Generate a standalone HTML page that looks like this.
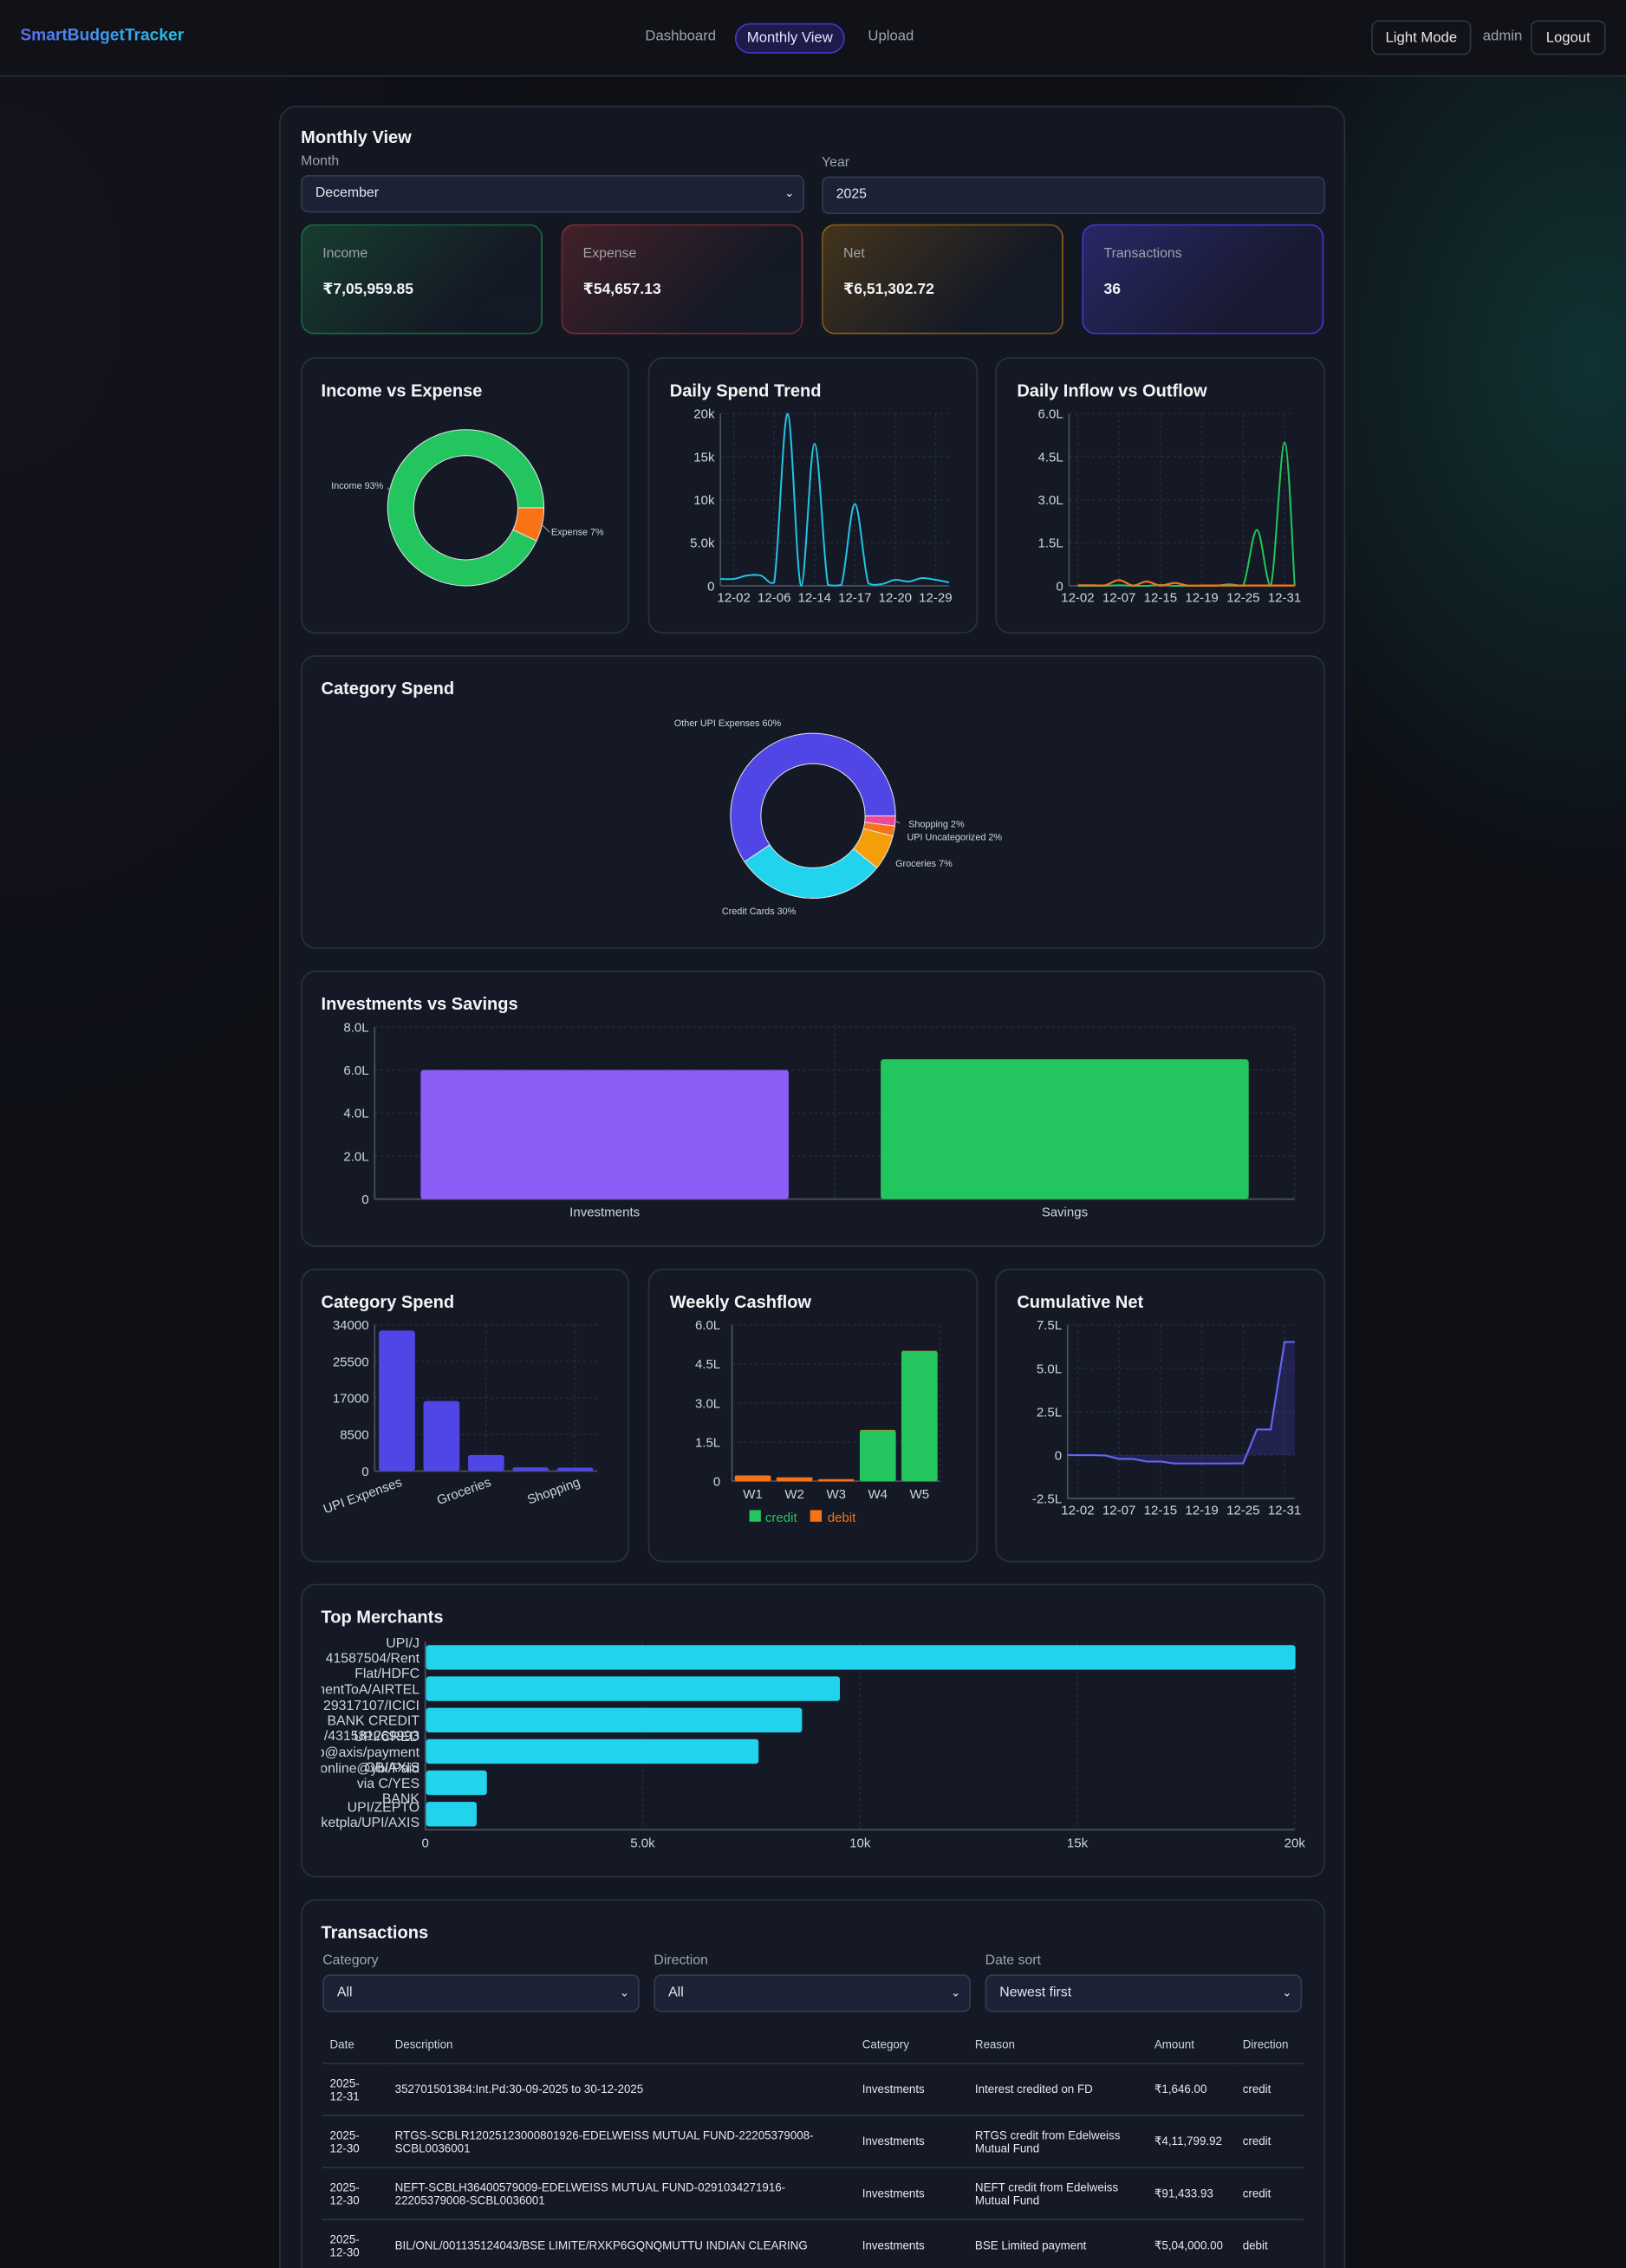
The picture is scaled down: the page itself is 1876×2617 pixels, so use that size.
<!DOCTYPE html>
<html><head><meta charset="utf-8"><title>SmartBudgetTracker - Monthly View</title>
<style>
html,body{margin:0;padding:0;width:1876px;height:2617px;overflow:hidden;background:#0e1016;}
#root{position:absolute;left:0;top:0;width:1124px;height:1568px;transform:scale(1.66904);transform-origin:0 0;
 font-family:"Liberation Sans","DejaVu Sans",sans-serif;color:#e5e7eb;overflow:hidden;
 background:radial-gradient(ellipse 260px 360px at 1100px 250px,rgba(20,110,100,.36),rgba(20,110,100,0) 100%),
 radial-gradient(ellipse 400px 600px at 0px 200px,rgba(40,30,60,.22),rgba(0,0,0,0)),#0e1016;}
.abs{position:absolute;}
#nav{left:0;top:0;width:1124px;height:52px;background:#101218;border-bottom:1px solid #2a2e37;}
.brand{left:14px;top:19px;font-size:11.5px;font-weight:bold;background:linear-gradient(90deg,#5b6cf0,#22c3e6);-webkit-background-clip:text;color:transparent;}
.navlink{top:20px;font-size:10px;color:#9ca3af;}
.pill{left:508px;top:16px;width:76px;height:21px;border:1px solid #4338ca;border-radius:11px;background:#1e1b4b;color:#e0e7ff;font-size:10px;text-align:center;line-height:20px;box-sizing:border-box;}
.btn{top:14px;height:24px;border:1px solid #30343e;border-radius:5px;font-size:10px;line-height:23px;text-align:center;box-sizing:border-box;color:#e5e7eb;background:#111319;}
#panel{left:193px;top:73px;width:737px;height:1560px;border:1px solid #2b3040;border-radius:12px;background:#131722;box-sizing:border-box;}
.h{font-size:12px;font-weight:bold;color:#f3f4f6;}
.lbl{font-size:9.5px;color:#9ca3af;}
.field{height:26px;border:1px solid #343b4f;border-radius:5px;background:#1c2236;box-sizing:border-box;font-size:9.5px;line-height:24px;padding-left:9px;color:#e5e7eb;}
.chev{position:absolute;right:6px;top:0;font-size:8px;color:#e5e7eb;}
.stat{top:155px;width:167px;height:76px;border-radius:9px;box-sizing:border-box;}
.stat .t{position:absolute;left:14px;top:14px;font-size:9.5px;color:#a1a1aa;}
.stat .v{position:absolute;left:14px;top:38px;font-size:10.5px;font-weight:bold;color:#f3f4f6;}
.card{border:1px solid #2a3142;border-radius:10px;background:#141925;box-sizing:border-box;}
.ct{font-size:12px;font-weight:bold;color:#f3f4f6;}
svg text{font-family:"Liberation Sans","DejaVu Sans",sans-serif;}
table{border-collapse:collapse;font-size:8px;color:#e5e7eb;}
td,th{text-align:left;vertical-align:middle;padding:0 0 0 5px;}
th{font-weight:normal;color:#cbd5e1;height:26px;}
tr.r td{height:35px;border-top:1px solid #2e3445;}
</style></head><body>
<div id="root">
 <div id="nav" class="abs">
  <div class="abs brand">SmartBudgetTracker</div>
  <div class="abs navlink" style="left:446px">Dashboard</div>
  <div class="abs pill">Monthly View</div>
  <div class="abs navlink" style="left:600px">Upload</div>
  <div class="abs btn" style="left:948px;width:69px">Light Mode</div>
  <div class="abs navlink" style="left:1025px">admin</div>
  <div class="abs btn" style="left:1058px;width:52px">Logout</div>
 </div>
 <div id="panel" class="abs"></div>
 <div class="abs h" style="left:208px;top:88px">Monthly View</div>
 <div class="abs lbl" style="left:208px;top:106px">Month</div>
 <div class="abs field" style="left:208px;top:121px;width:348px">December<span class="chev">&#8964;</span></div>
 <div class="abs lbl" style="left:568px;top:107px">Year</div>
 <div class="abs field" style="left:568px;top:122px;width:348px">2025</div>

 <div class="abs stat" style="left:208px;background:linear-gradient(135deg,rgba(34,197,94,.22),rgba(21,26,38,.9) 70%);border:1px solid rgba(34,197,94,.4)"><div class="t">Income</div><div class="v">₹7,05,959.85</div></div>
 <div class="abs stat" style="left:388px;background:linear-gradient(135deg,rgba(239,68,68,.22),rgba(21,26,38,.9) 70%);border:1px solid rgba(239,68,68,.4)"><div class="t">Expense</div><div class="v">₹54,657.13</div></div>
 <div class="abs stat" style="left:568px;background:linear-gradient(135deg,rgba(245,158,11,.22),rgba(21,26,38,.9) 70%);border:1px solid rgba(245,158,11,.45)"><div class="t">Net</div><div class="v">₹6,51,302.72</div></div>
 <div class="abs stat" style="left:748px;background:linear-gradient(135deg,rgba(79,70,229,.35),rgba(25,26,50,.95) 70%);border:1px solid #4338ca"><div class="t">Transactions</div><div class="v">36</div></div>

 <div class="abs card" style="left:208px;top:247px;width:227px;height:191px"></div>
 <div class="abs card" style="left:448px;top:247px;width:228px;height:191px"></div>
 <div class="abs card" style="left:688px;top:247px;width:228px;height:191px"></div>
 <div class="abs card" style="left:208px;top:453px;width:708px;height:203px"></div>
 <div class="abs card" style="left:208px;top:671px;width:708px;height:191px"></div>
 <div class="abs card" style="left:208px;top:877px;width:227px;height:203px"></div>
 <div class="abs card" style="left:448px;top:877px;width:228px;height:203px"></div>
 <div class="abs card" style="left:688px;top:877px;width:228px;height:203px"></div>
 <div class="abs card" style="left:208px;top:1095px;width:708px;height:203px"></div>
 <div class="abs card" style="left:208px;top:1313px;width:708px;height:300px"></div>

 <div class="abs ct" style="left:222px;top:263px">Income vs Expense</div>
 <div class="abs ct" style="left:463px;top:263px">Daily Spend Trend</div>
 <div class="abs ct" style="left:703px;top:263px">Daily Inflow vs Outflow</div>
 <div class="abs ct" style="left:222px;top:469px">Category Spend</div>
 <div class="abs ct" style="left:222px;top:687px">Investments vs Savings</div>
 <div class="abs ct" style="left:222px;top:893px">Category Spend</div>
 <div class="abs ct" style="left:463px;top:893px">Weekly Cashflow</div>
 <div class="abs ct" style="left:703px;top:893px">Cumulative Net</div>
 <div class="abs ct" style="left:222px;top:1111px">Top Merchants</div>
 <div class="abs ct" style="left:222px;top:1329px">Transactions</div>

 <div class="abs lbl" style="left:223px;top:1350px">Category</div>
 <div class="abs field" style="left:223px;top:1365px;width:219px">All<span class="chev">&#8964;</span></div>
 <div class="abs lbl" style="left:452px;top:1350px">Direction</div>
 <div class="abs field" style="left:452px;top:1365px;width:219px">All<span class="chev">&#8964;</span></div>
 <div class="abs lbl" style="left:681px;top:1350px">Date sort</div>
 <div class="abs field" style="left:681px;top:1365px;width:219px">Newest first<span class="chev">&#8964;</span></div>

 <table class="abs" style="left:223px;top:1400px;width:678px">
  <tr><th style="width:40px">Date</th><th style="width:318px">Description</th><th style="width:73px">Category</th><th style="width:119px">Reason</th><th style="width:56px">Amount</th><th>Direction</th></tr>
  <tr class="r"><td>2025-<br>12-31</td><td>352701501384:Int.Pd:30-09-2025 to 30-12-2025</td><td>Investments</td><td>Interest credited on FD</td><td>₹1,646.00</td><td>credit</td></tr>
  <tr class="r"><td>2025-<br>12-30</td><td>RTGS-SCBLR12025123000801926-EDELWEISS MUTUAL FUND-22205379008-<br>SCBL0036001</td><td>Investments</td><td>RTGS credit from Edelweiss<br>Mutual Fund</td><td>₹4,11,799.92</td><td>credit</td></tr>
  <tr class="r"><td>2025-<br>12-30</td><td>NEFT-SCBLH36400579009-EDELWEISS MUTUAL FUND-0291034271916-<br>22205379008-SCBL0036001</td><td>Investments</td><td>NEFT credit from Edelweiss<br>Mutual Fund</td><td>₹91,433.93</td><td>credit</td></tr>
  <tr class="r"><td>2025-<br>12-30</td><td>BIL/ONL/001135124043/BSE LIMITE/RXKP6GQNQMUTTU INDIAN CLEARING</td><td>Investments</td><td>BSE Limited payment</td><td>₹5,04,000.00</td><td>debit</td></tr>
 </table>

 <svg id="charts" class="abs" style="left:0;top:0" width="1124" height="1568"></svg>
</div>
<script>
// ---------- data ----------
const ieLabels = ["Income","Expense"];
const ieValues = [93,7];
const spendDates = ["12-01","12-02","12-03","12-04","12-06","12-08","12-10","12-14","12-15","12-16","12-17","12-18","12-19","12-20","12-22","12-24","12-29","12-30"];
const spendValues = [800,800,1200,1200,400,20000,0,16500,100,100,9500,300,200,700,500,900,700,400];
const flowDates = ["12-02","12-03","12-05","12-07","12-09","12-12","12-15","12-16","12-17","12-19","12-20","12-22","12-25","12-26","12-29","12-31","01-01"];
const inflowL = [0,0,0,0.02,0,0,0.03,0,0,0,0,0.05,0,1.95,0,5.0,0];
const outflowL = [0.02,0.02,0.02,0.2,0.01,0.15,0.01,0.1,0.01,0.01,0.01,0.01,0.01,0.01,0.01,0.01,0.01];
const cumNetL = [0,0,-0.02,-0.22,-0.22,-0.37,-0.37,-0.48,-0.48,-0.48,-0.48,-0.48,-0.47,1.48,1.48,6.52,6.52];
const catNames = ["Other UPI Expenses","Credit Cards","Groceries","UPI Uncategorized","Shopping"];
const catValues = [32700,16300,3750,870,780];
const catPct = [60,30,7,2,2];
const invCats = ["Investments","Savings"];
const invValuesL = [6.0,6.5];
const weeks = ["W1","W2","W3","W4","W5"];
const weekCreditL = [0,0,0,1.95,5.0];
const weekDebitL = [0.22,0.15,0.08,0.02,0.01];
const merchantLabels = [["UPI/J","41587504/Rent","Flat/HDFC"],["PaymentToA/AIRTEL"],["29317107/ICICI","BANK CREDIT","/431581269993"],["UPI/CRED","cred.club@axis/payment","OB/AXIS"],["online@ybl/Paid","via C/YES","BANK"],["UPI/ZEPTO","Marketpla/UPI/AXIS"]];
const merchantValues = [20000,9520,8650,7650,1400,1165];
const spendTicks = ["0","5.0k","10k","15k","20k"];
const lakhTicks6 = ["0","1.5L","3.0L","4.5L","6.0L"];
const lakhTicks8 = ["0","2.0L","4.0L","6.0L","8.0L"];
const catTicks = ["0","8500","17000","25500","34000"];
const netTicks = ["-2.5L","0","2.5L","5.0L","7.5L"];
const merchTicks = ["0","5.0k","10k","15k","20k"];

// ---------- helpers ----------
const NS="http://www.w3.org/2000/svg";
const svg=document.getElementById('charts');
function mk(tag,parent){const e=document.createElementNS(NS,tag);(parent||svg).appendChild(e);return e;}
function set(e,o){for(const k in o)e.setAttribute(k,o[k]);return e;}
function lin(d0,d1,r0,r1){return v=>r0+(v-d0)/(d1-d0)*(r1-r0);}
function txt(x,y,s,o){const t=mk('text');set(t,Object.assign({x:x,y:y,fill:'#cbd5e1','font-size':9},o||{}));t.textContent=s;return t;}
function smoothPath(pts,ymax){const c=y=>Math.min(ymax,y);let d='M'+pts[0][0]+','+pts[0][1];for(let i=0;i<pts.length-1;i++){const p0=pts[i-1]||pts[i],p1=pts[i],p2=pts[i+1],p3=pts[i+2]||p2;const t=0.17;const c1=[p1[0]+(p2[0]-p0[0])*t,c(p1[1]+(p2[1]-p0[1])*t)];const c2=[p2[0]-(p3[0]-p1[0])*t,c(p2[1]-(p3[1]-p1[1])*t)];d+=' C'+c1+' '+c2+' '+p2;}return d;}
function grid(x0,x1,ys,xs){ys.forEach(y=>{const l=mk('line');set(l,{x1:x0,x2:x1,y1:y,y2:y,stroke:'#232937','stroke-dasharray':'2,2'});

});
(xs||[]).forEach(x=>{const l=mk('line');set(l,{x1:x,x2:x,y1:ys[ys.length-1],y2:ys[0],stroke:'#232937','stroke-dasharray':'2,2'});

});}
function axisLine(x1,y1,x2,y2){const l=mk('line');set(l,{x1:x1,y1:y1,x2:x2,y2:y2,stroke:'#4b5263','stroke-width':1});

}
function yTicks(labels,x,ys){labels.forEach((s,i)=>{const t=txt(x,ys[i]+3.2,s,{'text-anchor':'end'});

});}
function arc(cx,cy,r0,r1,a0,a1){const p=(r,a)=>[cx+r*Math.cos(a),cy+r*Math.sin(a)];const big=(a1-a0)>Math.PI?1:0;const A=p(r1,a0),B=p(r1,a1),C=p(r0,a1),D=p(r0,a0);
return `M${A} A${r1},${r1} 0 ${big} 1 ${B} L${C} A${r0},${r0} 0 ${big} 0 ${D} Z`;}
function donut(cx,cy,r0,r1,vals,names,colors,labelPos,fs){
 const tot=vals.reduce((a,b)=>a+b,0);let a=0;
 for(let i=vals.length-1;i>=0;i--){const a0=a/tot*2*Math.PI;a+=vals[i];const a1=a/tot*2*Math.PI;
  const p=mk('path');set(p,{d:arc(cx,cy,r0,r1,a0,a1),fill:colors[i],stroke:'#e5e7eb','stroke-width':0.6});
  
  
  const mid=(a0+a1)/2;const lp=labelPos[i];
  const ln=mk('polyline');set(ln,{points:`${cx+r1*Math.cos(mid)},${cy+r1*Math.sin(mid)} ${lp[2]},${lp[3]}`,fill:'none',stroke:'#9ca3af','stroke-width':0.6});
  
  
  const t=txt(lp[0],lp[1],names[i]+' '+vals[i]+'%',{'font-size':fs,'text-anchor':lp[4]||'start'});
  
  }
}

// ---------- Income vs Expense donut ----------
donut(322,351,36,54,ieValues,ieLabels,['#22c55e','#f97316'],[[265,338,268,337,'end'],[381,370,380,368]],6.5);

// ---------- Daily Spend Trend ----------
(function(){const X0=498,X1=656,Y0=405,Y1=286;const n=spendDates.length;
 const x=i=>X0+i*(X1-X0)/(n-1);const y=lin(0,20000,Y0,Y1);
 const tv=[0,5000,10000,15000,20000];const ys=tv.map(y);
 const lblIdx=[1,4,7,10,13,16];grid(X0,X1,ys,lblIdx.map(x));
 axisLine(X0,Y0,X1,Y0);axisLine(X0,Y0,X0,Y1);yTicks(spendTicks,494,ys);
 lblIdx.forEach(i=>{const t=txt(x(i),416,spendDates[i],{'text-anchor':'middle'});
 
 });
 const p=mk('path');set(p,{d:smoothPath(spendValues.map((v,i)=>[x(i),y(v)]),Y0),fill:'none',stroke:'#22c3e6','stroke-width':1.2});
 
 })();

// ---------- Daily Inflow vs Outflow ----------
(function(){const X0=739,X1=895,Y0=405,Y1=286;
 const x=i=>745+i*9.53;const y=lin(0,6,Y0,Y1);
 const ys=[0,1.5,3,4.5,6].map(y);const lblIdx=[0,3,6,9,12,15];grid(X0,X1,ys,lblIdx.map(x));
 axisLine(X0,Y0,X1,Y0);axisLine(X0,Y0,X0,Y1);yTicks(lakhTicks6,735,ys);
 lblIdx.forEach(i=>{const t=txt(x(i),416,flowDates[i],{'text-anchor':'middle'});
 
 });
 const xs=i=>Math.min(X1,x(i));
 const g=mk('path');set(g,{d:smoothPath(inflowL.map((v,i)=>[xs(i),y(v)]),Y0),fill:'none',stroke:'#22c55e','stroke-width':1.2});
 
 
 const o=mk('path');set(o,{d:smoothPath(outflowL.map((v,i)=>[xs(i),y(v)]),Y0),fill:'none',stroke:'#f97316','stroke-width':1.3});
 
 })();

// ---------- Category Spend donut ----------
donut(562,564,36,57,catPct,catNames,['#5046e5','#22d3ee','#f59e0b','#f97316','#ec4899'],
 [[466,502,547,510,'start'],[499,632,556,620],[619,599,612,590],[627,581,617,577],[628,572,622,569]],6.5);

// ---------- Investments vs Savings ----------
(function(){const X0=259,X1=895,Y0=829,Y1=710;const y=lin(0,8,Y0,Y1);const ys=[0,2,4,6,8].map(y);
 const bw=(X1-X0)/invCats.length;grid(X0,X1,ys,[X0+bw,X1]);axisLine(X0,Y0,X1,Y0);axisLine(X0,Y0,X0,Y1);yTicks(lakhTicks8,255,ys);
 const cols=['#8b5cf6','#22c55e'];
 invCats.forEach((c,i)=>{const r=mk('rect');set(r,{x:X0+i*bw+bw*0.1,y:y(invValuesL[i]),width:bw*0.8,height:Y0-y(invValuesL[i]),rx:2,fill:cols[i]});
 
 
 const t=txt(X0+i*bw+bw/2,841,c,{'text-anchor':'middle'});
 
 });})();

// ---------- Category Spend bars ----------
(function(){const X0=259,X1=413,Y0=1017,Y1=916;const y=lin(0,34000,Y0,Y1);const ys=[0,8500,17000,25500,34000].map(y);
 const bw=(X1-X0)/catNames.length;grid(X0,X1,ys,[X0+bw*2.5,X0+bw*4.5]);axisLine(X0,Y0,X1,Y0);axisLine(X0,Y0,X0,Y1);yTicks(catTicks,255,ys);
 const cp=mk('clipPath');set(cp,{id:'cbclip'});const cr=mk('rect',cp);set(cr,{x:222,y:900,width:200,height:170});
 catNames.forEach((c,i)=>{const cx=X0+i*bw+bw/2;const r=mk('rect');set(r,{x:cx-12.5,y:y(catValues[i]),width:25,height:Y0-y(catValues[i]),rx:2,fill:'#5046e5'});
 
 
 if(i%2===0){const t=txt(cx+4,1027,c,{'text-anchor':'end',transform:`rotate(-20 ${cx+4} 1027)`,'clip-path':'url(#cbclip)'});
 
 }});})();

// ---------- Weekly Cashflow ----------
(function(){const X0=506,X1=650,Y0=1024,Y1=916;const y=lin(0,6,Y0,Y1);const ys=[0,1.5,3,4.5,6].map(y);
 const bw=(X1-X0)/weeks.length;grid(X0,X1,ys,[X1]);axisLine(X0,Y0,X1,Y0);axisLine(X0,Y0,X0,Y1);yTicks(lakhTicks6,498,ys);
 weeks.forEach((w,i)=>{const cx=X0+i*bw+bw/2;
 const rc=mk('rect');set(rc,{x:cx-12.5,y:y(weekCreditL[i]),width:25,height:Y0-y(weekCreditL[i]),fill:'#22c55e',rx:1.5});
 
 
 const rd=mk('rect');set(rd,{x:cx-12.5,y:y(weekCreditL[i]+weekDebitL[i]),width:25,height:y(weekCreditL[i])-y(weekCreditL[i]+weekDebitL[i]),fill:'#f97316',rx:1});
 
 
 const t=txt(cx,1036,w,{'text-anchor':'middle'});
 
 });
 const l1=mk('rect');set(l1,{x:518,y:1044,width:8,height:8,fill:'#22c55e'});
 
 
 const t1=txt(529,1052,'credit',{fill:'#22c55e'});
 
 
 const l2=mk('rect');set(l2,{x:560,y:1044,width:8,height:8,fill:'#f97316'});
 
 
 const t2=txt(572,1052,'debit',{fill:'#f97316'});
 
 })();

// ---------- Cumulative Net ----------
(function(){const X0=738,X1=895,Y0=1036,Y1=916;const y=lin(-2.5,7.5,Y0,Y1);const ys=[-2.5,0,2.5,5,7.5].map(y);
 const x=i=>Math.min(X1,745+i*9.53);const lblIdx=[0,3,6,9,12,15];
 grid(X0,X1,ys,lblIdx.map(x));axisLine(X0,Y0,X1,Y0);axisLine(X0,Y0,X0,Y1);yTicks(netTicks,734,ys);
 lblIdx.forEach(i=>{const t=txt(745+i*9.53,1047,flowDates[i],{'text-anchor':'middle'});
 
 });
 const pts=cumNetL.map((v,i)=>[x(i),y(v)]);const pts2=[[738,y(cumNetL[0])]].concat(pts);
 const a=mk('path');set(a,{d:'M'+pts2.map(p=>p.join(',')).join(' L')+` L${X1},${y(0)} L738,${y(0)} Z`,fill:'rgba(80,70,229,0.22)'});
 
 
 const l=mk('path');set(l,{d:'M'+pts2.map(p=>p.join(',')).join(' L'),fill:'none',stroke:'#6366f1','stroke-width':1.3});
 
 })();

// ---------- Top Merchants ----------
(function(){const X0=294,X1=895,Y0=1265,Y1=1135;const x=lin(0,20000,X0,X1);const xs=[0,5000,10000,15000,20000].map(x);
 const bh=(Y0-Y1)/merchantValues.length;
 xs.forEach(v=>{const l=mk('line');set(l,{x1:v,x2:v,y1:Y1,y2:Y0,stroke:'#232937','stroke-dasharray':'2,2'});
 
 });
 axisLine(X0,Y0,X1,Y0);axisLine(X0,Y1,X0,Y0);
 merchTicks.forEach((s,i)=>{const t=txt(xs[i],1277,s,{'text-anchor':'middle'});
 
 });
 const cp=mk('clipPath');set(cp,{id:'mclip'});const cr=mk('rect',cp);set(cr,{x:222,y:1120,width:80,height:160});
 merchantValues.forEach((v,i)=>{const cy=Y1+i*bh+bh/2;const r=mk('rect');set(r,{x:X0+0.5,y:cy-8.5,width:x(v)-X0,height:17,rx:2,fill:'#22d3ee'});
 
 
 const L=merchantLabels[i];L.forEach((s,j)=>{const t=txt(290,cy+3.5+(j-(L.length-1)/2)*10.5,s,{'text-anchor':'end','clip-path':'url(#mclip)','font-size':9.5});
 
 });});})();
</script>
</body></html>
